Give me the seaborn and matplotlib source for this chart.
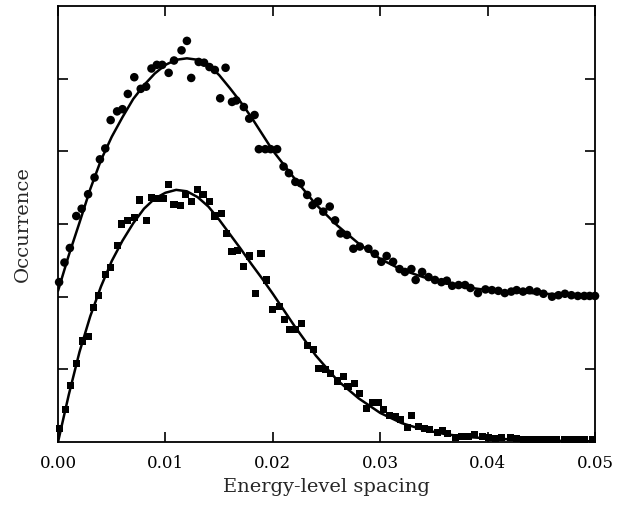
import matplotlib
matplotlib.use("Agg")
import matplotlib.pyplot as plt
import seaborn as sns
import pandas as pd

# upper series (circles)
circ_x = [0.0001, 0.0006, 0.0011, 0.0017, 0.0022, 0.0028, 0.0034, 0.0039, 0.0044, 0.0049,
          0.0055, 0.0060, 0.0065, 0.0071, 0.0077, 0.0082, 0.0087, 0.0092, 0.0097, 0.0103,
          0.0108, 0.0115, 0.0120, 0.0124, 0.0131, 0.0136, 0.0141, 0.0146, 0.0151, 0.0156,
          0.0162, 0.0166, 0.0173, 0.0178, 0.0183, 0.0187, 0.0193, 0.0198, 0.0204, 0.0210,
          0.0215, 0.0221, 0.0226, 0.0232, 0.0237, 0.0242, 0.0247, 0.0253, 0.0258, 0.0263,
          0.0269, 0.0275, 0.0281, 0.0289, 0.0295, 0.0301, 0.0306, 0.0312, 0.0318, 0.0323,
          0.0329, 0.0333, 0.0339, 0.0345, 0.0351, 0.0357, 0.0362, 0.0367, 0.0373, 0.0379,
          0.0384, 0.0391, 0.0398, 0.0404, 0.0410, 0.0416, 0.0422, 0.0427, 0.0433, 0.0439,
          0.0446, 0.0452, 0.0460, 0.0466, 0.0472, 0.0478, 0.0484, 0.0490, 0.0495, 0.0500]
circ_y = [2.20, 2.47, 2.67, 3.11, 3.21, 3.41, 3.64, 3.89, 4.04, 4.43,
          4.55, 4.58, 4.79, 5.02, 4.86, 4.89, 5.14, 5.19, 5.19, 5.08,
          5.25, 5.39, 5.52, 5.01, 5.23, 5.22, 5.16, 5.12, 4.73, 5.15,
          4.68, 4.70, 4.61, 4.45, 4.50, 4.03, 4.03, 4.03, 4.03, 3.79,
          3.70, 3.58, 3.56, 3.40, 3.26, 3.31, 3.17, 3.24, 3.05, 2.87,
          2.85, 2.66, 2.69, 2.66, 2.59, 2.48, 2.56, 2.48, 2.38, 2.34,
          2.38, 2.23, 2.34, 2.27, 2.23, 2.20, 2.22, 2.15, 2.16, 2.16,
          2.12, 2.05, 2.10, 2.09, 2.08, 2.05, 2.07, 2.09, 2.07, 2.09,
          2.07, 2.04, 2.00, 2.02, 2.04, 2.02, 2.01, 2.01, 2.01, 2.01]

# lower series (squares)
sq_x = [0.0001, 0.0007, 0.0012, 0.0017, 0.0023, 0.0028, 0.0033, 0.0038, 0.0044, 0.0049,
        0.0055, 0.0059, 0.0065, 0.0071, 0.0076, 0.0082, 0.0087, 0.0092, 0.0098, 0.0103,
        0.0108, 0.0114, 0.0119, 0.0124, 0.0130, 0.0135, 0.0141, 0.0146, 0.0152, 0.0157,
        0.0162, 0.0167, 0.0173, 0.0178, 0.0184, 0.0189, 0.0194, 0.0200, 0.0206, 0.0211,
        0.0216, 0.0221, 0.0227, 0.0232, 0.0238, 0.0243, 0.0249, 0.0254, 0.0260, 0.0266,
        0.0270, 0.0276, 0.0281, 0.0287, 0.0293, 0.0298, 0.0303, 0.0309, 0.0314, 0.0319,
        0.0325, 0.0329, 0.0336, 0.0341, 0.0346, 0.0353, 0.0358, 0.0363, 0.0370, 0.0376,
        0.0382, 0.0388, 0.0395, 0.0401, 0.0407, 0.0413, 0.0421, 0.0427, 0.0433, 0.0439,
        0.0446, 0.0452, 0.0458, 0.0464, 0.0472, 0.0478, 0.0484, 0.0490, 0.0498]
sq_y = [0.19, 0.45, 0.78, 1.08, 1.39, 1.45, 1.85, 2.02, 2.30, 2.40,
        2.70, 3.00, 3.05, 3.09, 3.33, 3.05, 3.37, 3.35, 3.35, 3.55,
        3.27, 3.25, 3.41, 3.31, 3.47, 3.40, 3.31, 3.11, 3.14, 2.87,
        2.62, 2.63, 2.41, 2.56, 2.05, 2.59, 2.23, 1.82, 1.86, 1.68,
        1.55, 1.55, 1.63, 1.33, 1.27, 1.01, 1.00, 0.94, 0.84, 0.90,
        0.76, 0.81, 0.67, 0.46, 0.54, 0.54, 0.45, 0.37, 0.35, 0.31,
        0.20, 0.36, 0.21, 0.19, 0.17, 0.13, 0.16, 0.12, 0.06, 0.07,
        0.08, 0.10, 0.07, 0.06, 0.05, 0.06, 0.06, 0.05, 0.04, 0.04,
        0.03, 0.03, 0.03, 0.03, 0.03, 0.03, 0.03, 0.03, 0.03]

# fitted curves
fit_x = [0.000, 0.001, 0.002, 0.003, 0.004, 0.005, 0.006, 0.007, 0.008, 0.009,
         0.010, 0.011, 0.012, 0.013, 0.014, 0.015, 0.016, 0.017, 0.018, 0.019,
         0.020, 0.022, 0.024, 0.026, 0.028, 0.030, 0.032, 0.034, 0.036, 0.038,
         0.040, 0.045, 0.050]
fit_upper = [2.08, 2.57, 3.02, 3.48, 3.88, 4.20, 4.47, 4.72, 4.91, 5.07,
             5.19, 5.26, 5.28, 5.26, 5.19, 5.05, 4.87, 4.68, 4.47, 4.24,
             4.01, 3.63, 3.27, 2.98, 2.73, 2.52, 2.37, 2.27, 2.19, 2.13,
             2.09, 2.04, 2.02]
fit_lower = [0.00, 0.65, 1.24, 1.73, 2.14, 2.49, 2.77, 3.01, 3.21, 3.35,
             3.43, 3.47, 3.45, 3.37, 3.24, 3.06, 2.86, 2.66, 2.45, 2.25,
             2.04, 1.60, 1.19, 0.85, 0.60, 0.40, 0.26, 0.17, 0.11, 0.07,
             0.05, 0.02, 0.01]

x_ticks = [0.00, 0.01, 0.02, 0.03, 0.04, 0.05]
x_tick_labels = ["0.00", "0.01", "0.02", "0.03", "0.04", "0.05"]
y_ticks = [1, 2, 3, 4, 5]

sns.set_style("ticks")
plt.rcParams["font.family"] = ["DejaVu Serif"]

circ_df = pd.DataFrame({"x": circ_x, "y": circ_y})
sq_df = pd.DataFrame({"x": sq_x, "y": sq_y})
fit_df = pd.DataFrame({"x": fit_x, "upper": fit_upper, "lower": fit_lower})

fig = plt.figure(figsize=(6.26, 5.09), dpi=100)
ax = fig.add_axes([0.0927, 0.1316, 0.8578, 0.8566])

sns.lineplot(data=fit_df, x="x", y="upper", ax=ax, color="black", lw=1.8, zorder=2)
sns.lineplot(data=fit_df, x="x", y="lower", ax=ax, color="black", lw=1.8, zorder=2)
sns.scatterplot(data=circ_df, x="x", y="y", ax=ax, marker="o", s=38, color="black",
                edgecolor="none", clip_on=False, zorder=3)
sns.scatterplot(data=sq_df, x="x", y="y", ax=ax, marker="s", s=26, color="black",
                edgecolor="none", clip_on=False, zorder=3)

ax.set_xlim(0, 0.05)
ax.set_ylim(0, 6)
ax.set_xticks(x_ticks)
ax.set_xticklabels(x_tick_labels)
ax.set_yticks(y_ticks)
ax.set_yticklabels([])
ax.tick_params(direction="in", length=7, width=1.2, top=True, right=True,
               labelsize=12, pad=9, colors="black")
for sp in ax.spines.values():
    sp.set_linewidth(1.3)
    sp.set_color("black")

ax.set_xlabel("Energy-level spacing", fontsize=14, labelpad=5)
ax.set_ylabel("Occurrence", fontsize=14, labelpad=10)

fig.savefig("out.png", dpi=100)
